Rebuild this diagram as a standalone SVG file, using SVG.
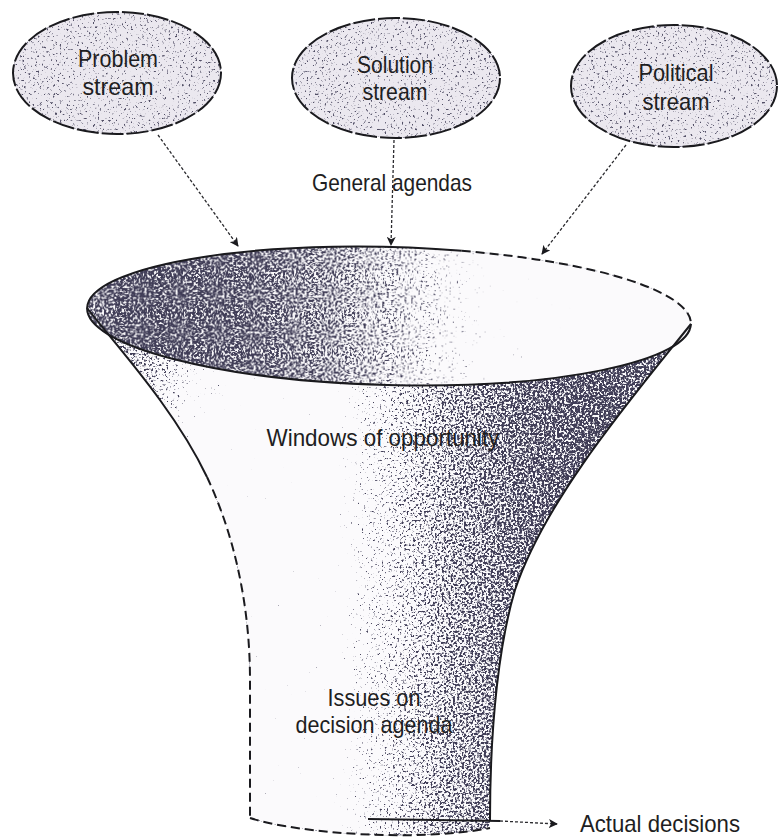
<svg xmlns="http://www.w3.org/2000/svg" width="779" height="840" viewBox="0 0 779 840">
<style>
.lbl{font-family:"Liberation Sans Narrow","Liberation Sans",Arial,sans-serif;font-size:24px;fill:#1e1e22;text-anchor:middle}
.edge{fill:none;stroke:#1a1a1e;stroke-width:2}
.dash{fill:none;stroke:#1a1a1e;stroke-width:2;stroke-dasharray:9 5}
.bubble-fill{fill:url(#bubL);filter:url(#stipB)}
.bubble-line{fill:none;stroke:#1a1a1e;stroke-width:2;stroke-dasharray:22 3}
.conn{fill:none;stroke:#2a2a2e;stroke-width:1.3;stroke-dasharray:3 2}
</style>
<defs>
<filter id="stip" x="0%" y="0%" width="100%" height="100%" color-interpolation-filters="sRGB">
<feTurbulence type="fractalNoise" baseFrequency="0.45" numOctaves="2" seed="4" result="t"/>
<feColorMatrix in="t" type="matrix" values="1 0 0 0 0  1 0 0 0 0  1 0 0 0 0  0 0 0 0 1" result="n"/>
<feComposite in="SourceGraphic" in2="n" operator="arithmetic" k1="0" k2="1" k3="1" k4="-0.5" result="s"/>
<feColorMatrix in="s" type="matrix" values="0 0 0 0 0.25  0 0 0 0 0.24  0 0 0 0 0.34  -7 0 0 0 4" result="d"/>
<feFlood flood-color="#fbfafc" result="w"/>
<feComposite in="w" in2="SourceAlpha" operator="in" result="wb"/>
<feComposite in="d" in2="SourceAlpha" operator="in" result="dc"/>
<feMerge><feMergeNode in="wb"/><feMergeNode in="dc"/></feMerge>
</filter>
<filter id="stipB" x="0%" y="0%" width="100%" height="100%" color-interpolation-filters="sRGB">
<feTurbulence type="fractalNoise" baseFrequency="0.45" numOctaves="2" seed="9" result="t"/>
<feColorMatrix in="t" type="matrix" values="1 0 0 0 0  1 0 0 0 0  1 0 0 0 0  0 0 0 0 1" result="n"/>
<feComposite in="SourceGraphic" in2="n" operator="arithmetic" k1="0" k2="1" k3="1" k4="-0.5" result="s"/>
<feColorMatrix in="s" type="matrix" values="0 0 0 0 0.32  0 0 0 0 0.31  0 0 0 0 0.4  -7 0 0 0 4" result="d"/>
<feFlood flood-color="#ebe8ef" result="w"/>
<feComposite in="w" in2="SourceAlpha" operator="in" result="wb"/>
<feComposite in="d" in2="SourceAlpha" operator="in" result="dc"/>
<feMerge><feMergeNode in="wb"/><feMergeNode in="dc"/></feMerge>
</filter>
<radialGradient id="bubL" cx="0.5" cy="0.5" r="0.6">
<stop offset="0" stop-color="#b8b8b8"/>
<stop offset="1" stop-color="#acacac"/>
</radialGradient>
<radialGradient id="leftTop" gradientUnits="userSpaceOnUse" cx="150" cy="345" r="120">
<stop offset="0" stop-color="#000" stop-opacity="0.28"/>
<stop offset="1" stop-color="#000" stop-opacity="0"/>
</radialGradient>
<linearGradient id="backL" gradientUnits="userSpaceOnUse" x1="87" y1="0" x2="691" y2="0">
<stop offset="0" stop-color="#7a7a7a"/>
<stop offset="0.07" stop-color="#6c6c6c"/>
<stop offset="0.27" stop-color="#737373"/>
<stop offset="0.4" stop-color="#848484"/>
<stop offset="0.52" stop-color="#a0a0a0"/>
<stop offset="0.6" stop-color="#bdbdbd"/>
<stop offset="0.67" stop-color="#e0e0e0"/>
<stop offset="1" stop-color="#ffffff"/>
</linearGradient>
<linearGradient id="frontL" gradientUnits="userSpaceOnUse" x1="87" y1="0" x2="691" y2="0">
<stop offset="0" stop-color="#a4a4a4"/>
<stop offset="0.1" stop-color="#c6c6c6"/>
<stop offset="0.18" stop-color="#e6e6e6"/>
<stop offset="0.4" stop-color="#e6e6e6"/>
<stop offset="0.46" stop-color="#bdbdbd"/>
<stop offset="0.53" stop-color="#a2a2a2"/>
<stop offset="0.6" stop-color="#8c8c8c"/>
<stop offset="0.72" stop-color="#787878"/>
<stop offset="0.85" stop-color="#6e6e6e"/>
<stop offset="1" stop-color="#7a7a7a"/>
</linearGradient>
<path id="bodyShape" d="M87,308 C120,350 175,410 207,477 C232,530 250,600 250,680 L250,818 C300,834 420,842 490,828 L490,820 C490,720 500,640 515,590 C545,500 630,400 691,324 A302,69 1.5 0,1 87,308 Z"/>
<marker id="ah" viewBox="0 0 10 10" refX="9" refY="5" markerWidth="9" markerHeight="9" markerUnits="userSpaceOnUse" orient="auto">
<path d="M0,0 L10,5 L0,10 L2.5,5 Z" fill="#1a1a1e"/>
</marker>
</defs>

<g id="problem-stream">
<ellipse class="bubble-fill" cx="117" cy="73" rx="104" ry="61"/>
<ellipse class="bubble-line" cx="117" cy="73" rx="104" ry="61"/>
<text class="lbl" x="118" y="67" textLength="80" lengthAdjust="spacingAndGlyphs">Problem</text>
<text class="lbl" x="118" y="95" textLength="71" lengthAdjust="spacingAndGlyphs">stream</text>
</g>

<g id="solution-stream">
<ellipse class="bubble-fill" cx="396" cy="78" rx="104" ry="60"/>
<ellipse class="bubble-line" cx="396" cy="78" rx="104" ry="60"/>
<text class="lbl" x="395" y="73" textLength="76" lengthAdjust="spacingAndGlyphs">Solution</text>
<text class="lbl" x="395" y="100" textLength="65" lengthAdjust="spacingAndGlyphs">stream</text>
</g>

<g id="political-stream">
<ellipse class="bubble-fill" cx="674" cy="86" rx="103" ry="61"/>
<ellipse class="bubble-line" cx="674" cy="86" rx="103" ry="61"/>
<text class="lbl" x="676" y="81" textLength="75" lengthAdjust="spacingAndGlyphs">Political</text>
<text class="lbl" x="676" y="110" textLength="67" lengthAdjust="spacingAndGlyphs">stream</text>
</g>

<g id="funnel">
<g filter="url(#stip)">
<use href="#bodyShape" fill="url(#frontL)"/>
<use href="#bodyShape" fill="url(#leftTop)"/>
</g>
<ellipse fill="url(#backL)" filter="url(#stip)" cx="389" cy="316" rx="302" ry="69" transform="rotate(1.5 389 316)"/>
<path class="edge" d="M87.1,308.1 A302,69 1.5 0,1 461.7,250.8"/>
<path class="dash" d="M461.7,250.8 A302,69 1.5 0,1 690.9,323.9"/>
<path class="edge" d="M87.1,308.1 A302,69 1.5 0,0 690.9,323.9"/>
<path class="edge" d="M87,308 C120,350 175,410 207,477"/>
<path class="dash" d="M207,477 C232,530 250,600 250,680 L250,818"/>
<path class="edge" d="M691,324 C630,400 545,500 515,590 C500,640 490,720 490,820"/>
<path class="dash" d="M250,818 C300,834 420,842 490,828"/>
<path class="edge" d="M368,819 L500,821"/>
<text class="lbl" x="383" y="446" textLength="233" lengthAdjust="spacingAndGlyphs">Windows of opportunity</text>
<text class="lbl" x="374" y="706" textLength="93" lengthAdjust="spacingAndGlyphs">Issues on</text>
<text class="lbl" x="374" y="733" textLength="157" lengthAdjust="spacingAndGlyphs">decision agenda</text>
</g>

<g id="connectors">
<path class="conn" d="M158,135 L238,246" marker-end="url(#ah)"/>
<path class="conn" d="M394,140 L391,245" marker-end="url(#ah)"/>
<path class="conn" d="M626,145 L542,254" marker-end="url(#ah)"/>
<path class="conn" d="M500,821 L557,824" marker-end="url(#ah)"/>
</g>

<g id="labels">
<text class="lbl" x="392" y="191" textLength="160" lengthAdjust="spacingAndGlyphs">General agendas</text>
<text class="lbl" x="580" y="832" textLength="160" lengthAdjust="spacingAndGlyphs" style="text-anchor:start">Actual decisions</text>
</g>
</svg>
